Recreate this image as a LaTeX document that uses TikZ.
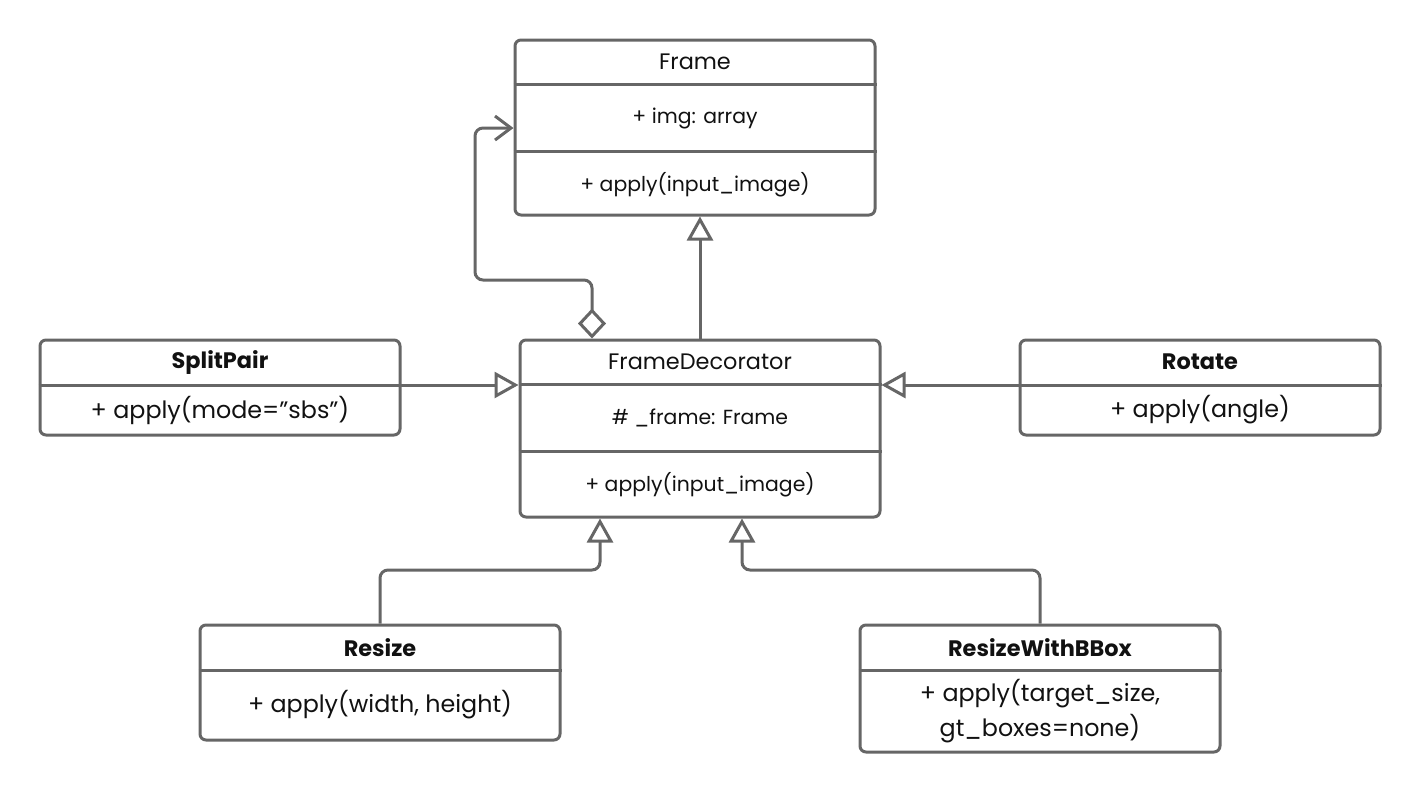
\documentclass[tikz,border=0pt]{standalone}
\usepackage{fontspec}
\setmainfont{Poppins}
\usetikzlibrary{arrows.meta,positioning,calc}
\definecolor{linecolor}{RGB}{102,102,102}
\definecolor{textcolor}{RGB}{17,17,17}

\begin{document}
\begin{tikzpicture}[
    x=0.5pt, y=-0.5pt,
    box/.style={rectangle, draw=linecolor, line width=1.5pt, rounded corners=3pt, minimum width=180pt, inner sep=0pt},
    divider/.style={draw=linecolor, line width=1.5pt},
    title/.style={text=textcolor, font=\fontsize{11.2}{13}\selectfont},
    btitle/.style={text=textcolor, font=\fontsize{11.2}{13}\selectfont\bfseries},
    member/.style={text=textcolor, font=\fontsize{10.2}{12}\selectfont},
    bmember/.style={text=textcolor, font=\fontsize{11.9}{17.5}\selectfont, align=center},
    link/.style={draw=linecolor, line width=1.5pt},
    inherit/.style={link, -{Triangle[open, width=13pt, length=12pt]}},
    aggr/.style={link, {Diamond[open, width=14pt, length=15pt]}-{Straight Barb[width=12pt, length=8pt]}}
]
\useasboundingbox (0,0) rectangle (1420,794);

% Frame
\node[box, minimum height=87.5pt] (frame) at (695,127.5) {};
\draw[divider] (frame.west |- 0,84) -- (frame.east |- 0,84);
\draw[divider] (frame.west |- 0,151) -- (frame.east |- 0,151);
\node[title] (frametitle) at (695,62) {Frame};
\node[member] (frameattr) at (695,118) {+ img: array};
\node[member] (framemeth) at (695,185) {+ apply(input\_image)};

% FrameDecorator
\node[box, minimum height=88.5pt] (decorator) at (700,428.5) {};
\draw[divider] (decorator.west |- 0,384) -- (decorator.east |- 0,384);
\draw[divider] (decorator.west |- 0,451) -- (decorator.east |- 0,451);
\node[title] (decotitle) at (700,362) {FrameDecorator};
\node[member] (decoattr) at (700,418) {\# \_frame: Frame};
\node[member] (decometh) at (700,485) {+ apply(input\_image)};

% SplitPair
\node[box, minimum height=47.5pt] (splitpair) at (220,387.5) {};
\draw[divider] (splitpair.west |- 0,385) -- (splitpair.east |- 0,385);
\node[btitle] (splittitle) at (220,362) {SplitPair};
\node[bmember] (splitmeth) at (220,410) {+ apply(mode="sbs")};

% Rotate
\node[box, minimum height=47.5pt] (rotate) at (1200,387.5) {};
\draw[divider] (rotate.west |- 0,385) -- (rotate.east |- 0,385);
\node[btitle] (rotatetitle) at (1200,362) {Rotate};
\node[bmember] (rotatemeth) at (1200,410) {+ apply(angle)};

% Resize
\node[box, minimum height=57.5pt] (resize) at (380,682.5) {};
\draw[divider] (resize.west |- 0,670) -- (resize.east |- 0,670);
\node[btitle] (resizetitle) at (380,648) {Resize};
\node[bmember] (resizemeth) at (380,705) {+ apply(width, height)};

% ResizeWithBBox
\node[box, minimum height=63.5pt] (bbox) at (1040,688.5) {};
\draw[divider] (bbox.west |- 0,670) -- (bbox.east |- 0,670);
\node[btitle] (bboxtitle) at (1040,648) {ResizeWithBBox};
\node[bmember] (bboxmeth) at (1040,711) {+ apply(target\_size,\\gt\_boxes=none)};

% Connectors
\draw[inherit] (decorator.north) -- (decorator.north |- frame.south);
\draw[aggr, rounded corners=4pt] (decorator.north -| 592,0) -- (592,280) -- (475,280) -- (475,128) -- (frame.west |- 0,128);
\draw[inherit] (splitpair.east |- 0,385) -- (decorator.west |- 0,385);
\draw[inherit] (rotate.west |- 0,385) -- (decorator.east |- 0,385);
\draw[inherit, rounded corners=4pt] (resize.north) |- (600,570) -- (decorator.south -| 600,0);
\draw[inherit, rounded corners=4pt] (bbox.north) |- (742,570) -- (decorator.south -| 742,0);

\end{tikzpicture}
\end{document}
